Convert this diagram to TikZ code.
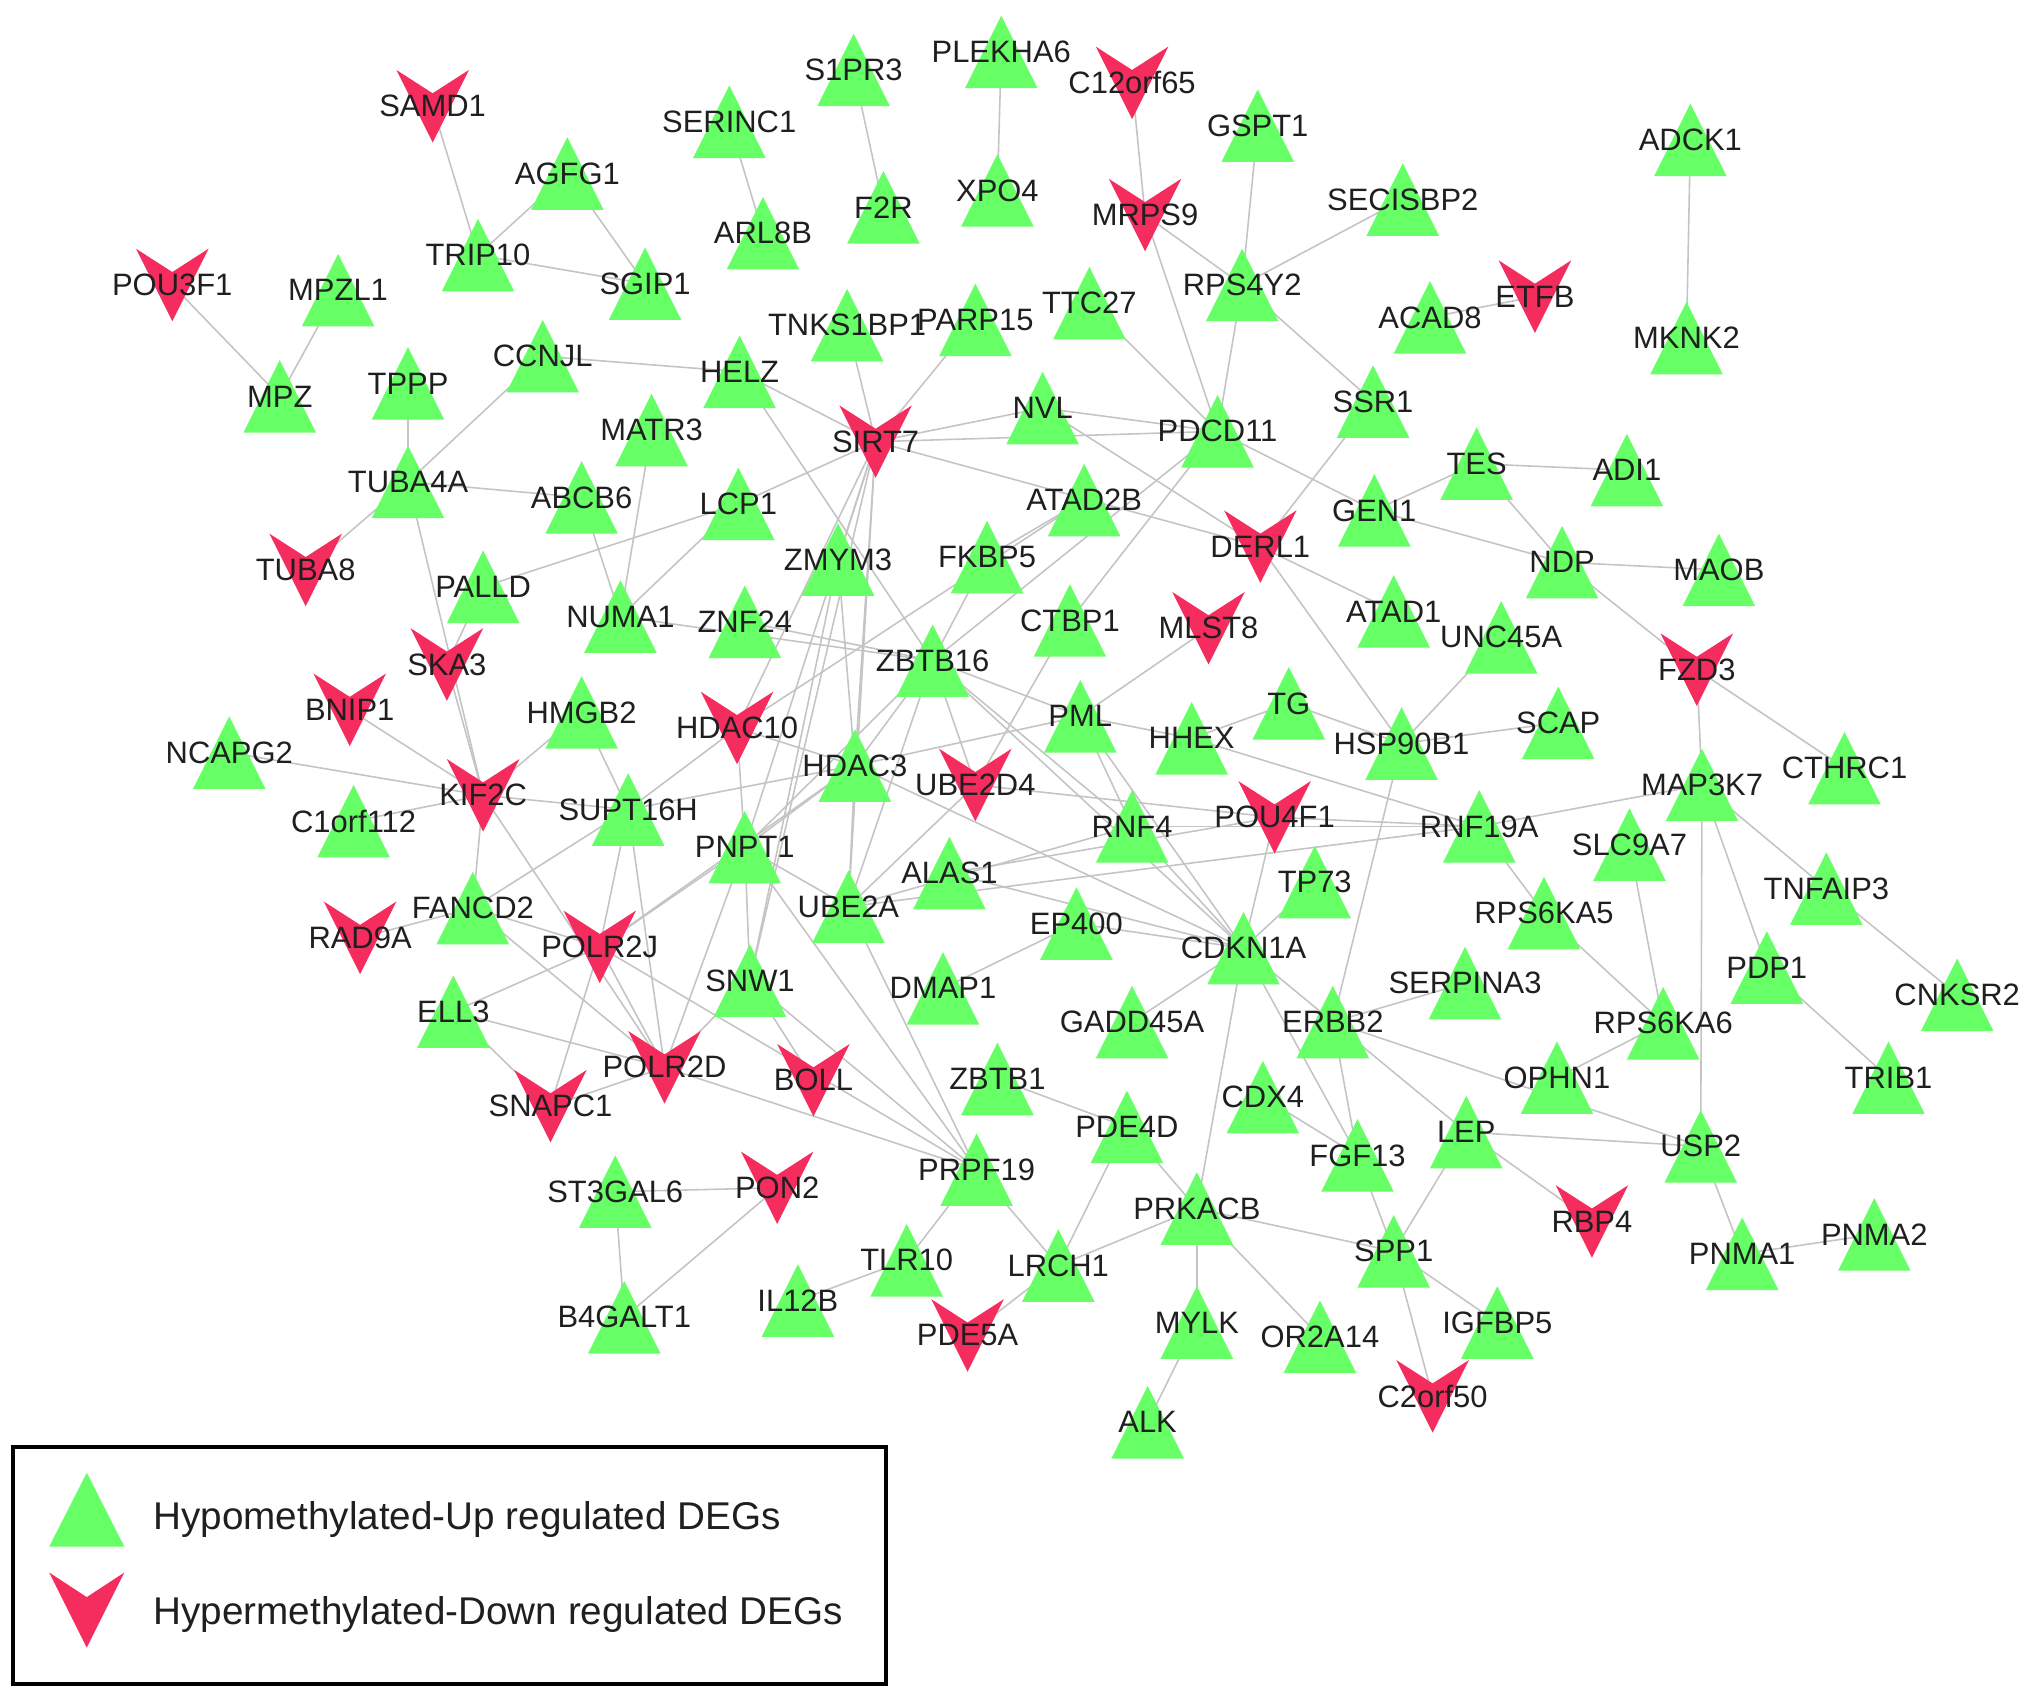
\documentclass[tikz,border=0pt]{standalone}
\usepackage{fontspec}
\setmainfont{Liberation Sans}
\definecolor{upgreen}{RGB}{102,255,102}
\definecolor{downred}{RGB}{245,45,95}
\definecolor{edgegray}{RGB}{196,196,196}
\pgfdeclarelayer{edges}
\pgfdeclarelayer{labels}
\pgfsetlayers{edges,main,labels}

\begin{document}
\begin{tikzpicture}[
  x=0.012953cm, y=-0.012953cm,
  gene/.style={font=\fontsize{8.8}{10}\selectfont,text=black!88,inner sep=0pt},
  link/.style={draw=edgegray,line width=0.45pt},
  keytext/.style={font=\fontsize{11}{13}\selectfont,text=black!88,anchor=base west,inner sep=0pt},
]
  \useasboundingbox (0,0) rectangle (1568,1311);

  % Hypomethylated-up genes (green triangles)
  \foreach \g/\x/\y in {S1PR3/659/54, PLEKHA6/773/40, GSPT1/971/97, SERINC1/563/94,
      AGFG1/438/134, ADCK1/1305/108, TRIP10/369/197, XPO4/770/147, F2R/682/160,
      ARL8B/589/180, SECISBP2/1083/154, MPZL1/261/224, SGIP1/498/219,
      TNKS1BP1/654/251, PARP15/753/247, TTC27/841/234, RPS4Y2/959/220,
      ACAD8/1104/245, MKNK2/1302/261, MPZ/216/306, TPPP/315/296, CCNJL/419/275,
      HELZ/571/287, NVL/805/315, SSR1/1060/310, PDCD11/940/333, MATR3/503/332,
      TES/1140/358, ADI1/1256/363, TUBA4A/315/372, ABCB6/449/384, LCP1/570/389,
      ATAD2B/837/386, GEN1/1061/394, NDP/1206/434, MAOB/1327/440, ZMYM3/647/432,
      FKBP5/762/430, PALLD/373/453, NUMA1/479/476, ZNF24/575/480, CTBP1/826/479,
      ATAD1/1076/472, UNC45A/1159/492, ZBTB16/720/510, HMGB2/449/550, PML/834/553,
      TG/995/543, HHEX/920/570, HSP90B1/1082/574, SCAP/1203/558, NCAPG2/177/581,
      HDAC3/660/591, CTHRC1/1424/593, MAP3K7/1314/606, C1orf112/273/634,
      SUPT16H/485/625, RNF4/874/638, RNF19A/1142/638, PNPT1/575/654,
      SLC9A7/1258/652, ALAS1/733/674, TP73/1015/681, TNFAIP3/1410/686,
      FANCD2/365/701, UBE2A/655/700, EP400/831/713, RPS6KA5/1192/705,
      CDKN1A/960/732, PDP1/1364/747, CNKSR2/1511/768, SNW1/579/757, DMAP1/728/763,
      SERPINA3/1131/759, ELL3/350/781, GADD45A/874/789, ERBB2/1029/789,
      RPS6KA6/1284/790, ZBTB1/770/833, OPHN1/1202/832, TRIB1/1458/832, CDX4/975/847,
      PDE4D/870/870, LEP/1132/874, USP2/1313/885, FGF13/1048/892, PRPF19/754/903,
      ST3GAL6/475/920, PRKACB/924/933, SPP1/1076/966, TLR10/700/973, LRCH1/817/977,
      PNMA1/1345/968, PNMA2/1447/953, IL12B/616/1004, B4GALT1/482/1017,
      MYLK/924/1021, OR2A14/1019/1032, IGFBP5/1156/1021, ALK/886/1098}{
    \fill[upgreen] (\x-28,\y+28) -- (\x+28,\y+28) -- (\x,\y-28) -- cycle;
    \begin{pgfonlayer}{labels}
      \node[gene] (\g) at (\x,\y) {\g};
    \end{pgfonlayer}
  }

  % Hypermethylated-down genes (red V marks)
  \foreach \g/\x/\y in {SAMD1/334/82, C12orf65/874/64, MRPS9/884/166, POU3F1/133/220,
      ETFB/1185/229, SIRT7/676/341, DERL1/973/422, TUBA8/236/440, MLST8/933/485,
      SKA3/345/513, FZD3/1310/517, BNIP1/270/548, HDAC10/569/562, UBE2D4/753/606,
      KIF2C/373/614, POU4F1/984/631, RAD9A/278/724, POLR2J/463/731, POLR2D/513/824,
      BOLL/628/834, SNAPC1/425/854, PON2/600/917, RBP4/1229/943, PDE5A/747/1031,
      C2orf50/1106/1078}{
    \fill[downred] (\x-28,\y-28) -- (\x,\y-10) -- (\x+28,\y-28) -- (\x,\y+28) -- cycle;
    \begin{pgfonlayer}{labels}
      \node[gene] (\g) at (\x,\y) {\g};
    \end{pgfonlayer}
  }

  % Interactions
  \begin{pgfonlayer}{edges}
  \foreach \a/\b in {SAMD1/TRIP10, TRIP10/AGFG1, TRIP10/SGIP1, AGFG1/SGIP1,
      POU3F1/MPZ, MPZL1/MPZ, SERINC1/ARL8B, S1PR3/F2R, PLEKHA6/XPO4,
      C12orf65/MRPS9, MRPS9/RPS4Y2, MRPS9/PDCD11, GSPT1/RPS4Y2, SECISBP2/RPS4Y2,
      RPS4Y2/PDCD11, RPS4Y2/SSR1, TTC27/PDCD11, ACAD8/ETFB, ADCK1/MKNK2,
      TPPP/TUBA4A, CCNJL/TUBA4A, CCNJL/HELZ, TUBA4A/ABCB6, TUBA4A/TUBA8, TUBA4A/KIF2C,
      HELZ/SIRT7, HELZ/ZBTB16, TNKS1BP1/SIRT7, PARP15/SIRT7, SIRT7/NVL,
      SIRT7/PDCD11, SIRT7/DERL1, NVL/PDCD11, NVL/DERL1,
      SIRT7/LCP1, LCP1/PALLD, LCP1/NUMA1, SIRT7/ZMYM3, SIRT7/HDAC10, SIRT7/PNPT1,
      SIRT7/SNW1, SIRT7/HDAC3, SIRT7/UBE2A,
      MATR3/NUMA1, ABCB6/NUMA1, NUMA1/ZBTB16, ZNF24/ZBTB16,
      ZMYM3/SNW1, ZMYM3/HDAC3, FKBP5/ZBTB16, FKBP5/ATAD2B, ATAD2B/HDAC10,
      PDCD11/ZBTB16, PDCD11/CTBP1, CTBP1/UBE2D4,
      HDAC10/HDAC3, HDAC10/PNPT1, HDAC10/SUPT16H,
      SUPT16H/HDAC3, PNPT1/HDAC3, PNPT1/ZBTB16, PNPT1/UBE2A, PNPT1/PRPF19, PNPT1/SNW1,
      UBE2A/HDAC3, UBE2A/ZBTB16, UBE2A/UBE2D4, UBE2A/RNF4, UBE2A/RNF19A, UBE2A/PRPF19,
      ALAS1/POU4F1, ALAS1/CDKN1A,
      HDAC3/PML, HDAC3/ZBTB16, HDAC3/CDKN1A, HDAC3/POLR2J,
      ZBTB16/UBE2D4, ZBTB16/PML, ZBTB16/RNF4, ZBTB16/CDKN1A, UBE2D4/POU4F1,
      PML/MLST8, PML/HHEX, PML/RNF4, PML/CDKN1A,
      HHEX/TG, HHEX/RNF19A, TG/HSP90B1, RNF4/CDKN1A, RNF4/RNF19A,
      POU4F1/RNF19A, POU4F1/CDKN1A, TP73/CDKN1A, EP400/CDKN1A, EP400/DMAP1,
      GADD45A/CDKN1A, CDKN1A/ERBB2, CDKN1A/FGF13, CDKN1A/PRKACB,
      DERL1/SSR1, DERL1/ATAD1, DERL1/HSP90B1, HSP90B1/UNC45A, HSP90B1/SCAP,
      HSP90B1/ERBB2, PDCD11/GEN1, GEN1/TES, GEN1/NDP, TES/ADI1, TES/NDP,
      NDP/MAOB, NDP/FZD3, FZD3/CTHRC1, FZD3/MAP3K7,
      MAP3K7/RNF19A, MAP3K7/TNFAIP3, MAP3K7/PDP1, MAP3K7/USP2, TNFAIP3/CNKSR2,
      PDP1/TRIB1, RNF19A/RPS6KA5, RPS6KA5/RPS6KA6, SLC9A7/RPS6KA6, RPS6KA6/OPHN1,
      ERBB2/SERPINA3, ERBB2/USP2, ERBB2/LEP, ERBB2/FGF13, LEP/USP2, LEP/RBP4,
      LEP/SPP1, USP2/PNMA1, PNMA1/PNMA2,
      CDX4/FGF13, FGF13/SPP1, SPP1/PRKACB, SPP1/IGFBP5, SPP1/C2orf50,
      PRKACB/OR2A14, PRKACB/MYLK, MYLK/ALK, PRKACB/PDE4D, PRKACB/LRCH1,
      PDE4D/LRCH1, PDE4D/ZBTB1, LRCH1/PDE5A, LRCH1/PRPF19, TLR10/PRPF19, TLR10/IL12B,
      ST3GAL6/PON2, ST3GAL6/B4GALT1, PON2/B4GALT1,
      PALLD/SKA3, SKA3/KIF2C, BNIP1/KIF2C, NCAPG2/KIF2C, C1orf112/KIF2C,
      HMGB2/KIF2C, HMGB2/SUPT16H, KIF2C/SUPT16H, KIF2C/FANCD2, KIF2C/POLR2D,
      FANCD2/RAD9A, FANCD2/SUPT16H, FANCD2/POLR2J, FANCD2/POLR2D,
      ELL3/POLR2J, ELL3/POLR2D, ELL3/SNAPC1, SNAPC1/POLR2J, SNAPC1/POLR2D,
      POLR2J/POLR2D, SUPT16H/POLR2J, SUPT16H/POLR2D, PNPT1/POLR2J, PNPT1/POLR2D,
      POLR2J/PRPF19, POLR2D/PRPF19, POLR2D/SNW1, SNW1/BOLL, SNW1/PRPF19}
    \draw[link] (\a.center) -- (\b.center);
  \end{pgfonlayer}

  % Legend
  \draw[line width=1.2pt] (10,1117) rectangle (684,1300);
  \fill[upgreen] (38,1194) -- (96,1194) -- (67,1137) -- cycle;
  \fill[downred] (38,1214) -- (67,1233) -- (96,1214) -- (67,1272) -- cycle;
  \node[keytext] (keyup) at (118,1181) {Hypomethylated-Up regulated DEGs};
  \node[keytext] (keydown) at (118,1254) {Hypermethylated-Down regulated DEGs};
\end{tikzpicture}
\end{document}
